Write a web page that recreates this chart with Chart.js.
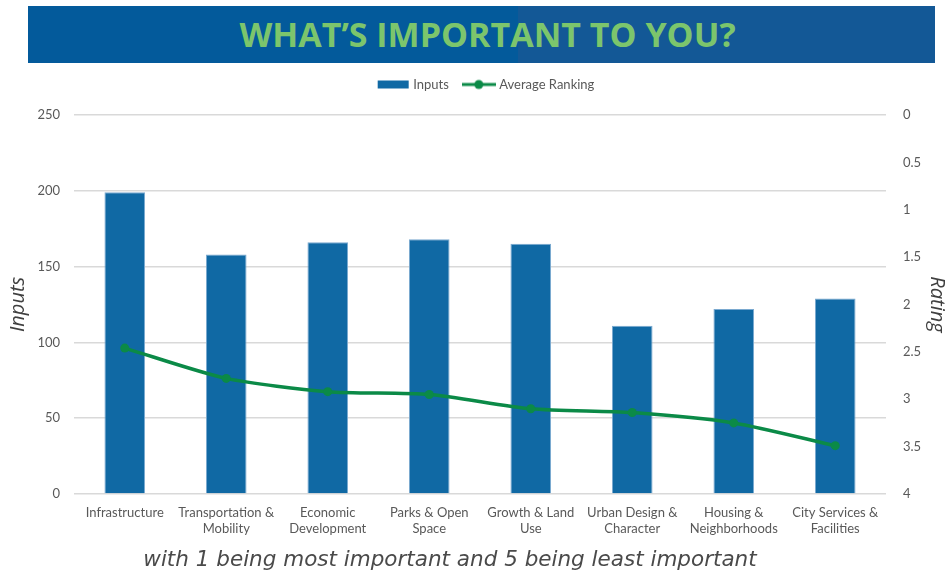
<!DOCTYPE html>
<html>
<head>
<meta charset="utf-8">
<script src="https://cdn.jsdelivr.net/npm/chart.js@4.4.1/dist/chart.umd.min.js"></script>
<style>
	html, body { margin: 0; padding: 0; background: #fff; }
	#wrap { position: relative; width: 949px; height: 573px; overflow: hidden; }
	#banner {
		position: absolute; left: 28px; top: 6px; width: 907px; height: 57px;
		background: linear-gradient(to right, #035a9b 0%, #035a9b 54%, #135896 54%, #135896 100%);
		color: #7cc56c; font-family: "Open Sans", sans-serif; font-weight: bold;
		font-size: 34px; line-height: 57px; text-align: center; padding-left: 12px; box-sizing: border-box;
	}
	#note {
		position: absolute; left: 0; width: 900px; top: 546px; text-align: center;
		font-family: "DejaVu Sans", sans-serif; font-style: italic; font-size: 21.5px; color: #4a4a4a;
	}
	#box { position: absolute; left: 0; top: 0; width: 949px; height: 573px; }
</style>
</head>
<body>
<div id="wrap">
	<div id="box"><canvas id="chart"></canvas></div>
	<div id="banner">WHAT’S IMPORTANT TO YOU?</div>
	<div id="note">with 1 being most important and 5 being least important</div>
</div>
<script>
const categories = [
	["Infrastructure"],
	["Transportation &", "Mobility"],
	["Economic", "Development"],
	["Parks & Open", "Space"],
	["Growth & Land", "Use"],
	["Urban Design &", "Character"],
	["Housing &", "Neighborhoods"],
	["City Services &", "Facilities"]
];
const inputs = [199, 158, 166, 168, 165, 111, 122, 129];
const averageRanking = [2.46, 2.78, 2.92, 2.95, 3.10, 3.14, 3.25, 3.49];
const inputTicks = [0, 50, 100, 150, 200, 250];
const ratingTicks = [0, 0.5, 1, 1.5, 2, 2.5, 3, 3.5, 4];

const barBlue = '#1069a4';
const lineGreen = '#0b8a47';
const tickFont = { family: 'Lato', size: 13 };

// kleine Legendensymbole
function legendIcon(kind) {
	let c = document.createElement('canvas');
	c.width = 34; c.height = 12;
	let g = c.getContext('2d');
	if (kind === 'bar') {
		g.fillStyle = barBlue;
		g.fillRect(2, 2, 31, 8);
	} else {
		g.strokeStyle = lineGreen;
		g.lineWidth = 3;
		g.beginPath(); g.moveTo(0, 6); g.lineTo(34, 6); g.stroke();
		g.fillStyle = lineGreen;
		g.beginPath(); g.arc(17, 6, 4.5, 0, Math.PI * 2); g.fill();
	}
	return c;
}

// Legende: mehr Abstand nach unten, etwas nach rechts versetzt
const legendTweak = {
	id: 'legendTweak',
	beforeInit(chart) {
		const origFit = chart.legend.fit;
		chart.legend.fit = function() {
			origFit.call(this);
			this.height += 14;
		};
	},
	afterLayout(chart) {
		chart.legend.left += 12;
		chart.legend.right += 12;
	}
};

new Chart(document.getElementById('chart'), {
	data: {
		labels: categories,
		datasets: [
			{
				type: 'line',
				label: 'Average Ranking',
				data: averageRanking,
				yAxisID: 'yRating',
				borderColor: lineGreen,
				backgroundColor: lineGreen,
				borderWidth: 3.5,
				pointRadius: 4.5,
				pointBackgroundColor: lineGreen,
				pointBorderWidth: 0,
				tension: 0.25,
				order: 1
			},
			{
				type: 'bar',
				label: 'Inputs',
				data: inputs,
				yAxisID: 'yInputs',
				backgroundColor: barBlue,
				borderColor: '#7aa9d0',
				borderWidth: 1,
				barPercentage: 0.4,
				categoryPercentage: 1,
				order: 2
			}
		]
	},
	plugins: [legendTweak],
	options: {
		responsive: true,
		maintainAspectRatio: false,
		animation: false,
		events: [],
		layout: { padding: { top: 62, left: 0, right: 0, bottom: 0 } },
		plugins: {
			legend: {
				position: 'top',
				reverse: true,
				labels: {
					usePointStyle: true,
					pointStyleWidth: 28,
					boxHeight: 12,
					padding: 16,
					color: '#595959',
					font: { family: 'Lato', size: 13 },
					generateLabels: function(chart) {
						return chart.data.datasets.map((ds, i) => ({
							text: ds.label,
							pointStyle: legendIcon(ds.type),
							datasetIndex: i,
							hidden: false,
							fontColor: '#595959',
							lineWidth: 0,
							strokeStyle: 'transparent',
							fillStyle: 'transparent'
						}));
					}
				}
			},
			tooltip: { enabled: false }
		},
		scales: {
			x: {
				grid: { display: false },
				border: { display: false },
				ticks: { color: '#595959', font: tickFont, padding: 3, maxRotation: 0, autoSkip: false },
				afterFit: function(scale) { scale.height = 79; }
			},
			yInputs: {
				position: 'left',
				min: 0,
				max: 250,
				afterBuildTicks: function(scale) { scale.ticks = inputTicks.map(v => ({ value: v })); },
				grid: { color: '#d9d9d9', lineWidth: 1.5, drawTicks: false },
				border: { display: false },
				ticks: { color: '#595959', font: tickFont, padding: 14 },
				title: { display: true, text: 'Inputs', color: '#404040',
					font: { family: 'Open Sans', size: 20, style: 'italic' }, padding: { top: 6 } },
				afterFit: function(scale) { scale.width = 74; }
			},
			yRating: {
				position: 'right',
				reverse: true,
				min: 0,
				max: 4,
				afterBuildTicks: function(scale) { scale.ticks = ratingTicks.map(v => ({ value: v })); },
				grid: { display: false, drawTicks: false },
				border: { display: false },
				ticks: { color: '#595959', font: tickFont, padding: 17,
					callback: function(value) { return String(value); } },
				title: { display: true, text: 'Rating', color: '#404040',
					font: { family: 'Open Sans', size: 20, style: 'italic' }, padding: { top: 0 } },
				afterFit: function(scale) { scale.width = 63; }
			}
		}
	}
});
</script>
</body>
</html>
